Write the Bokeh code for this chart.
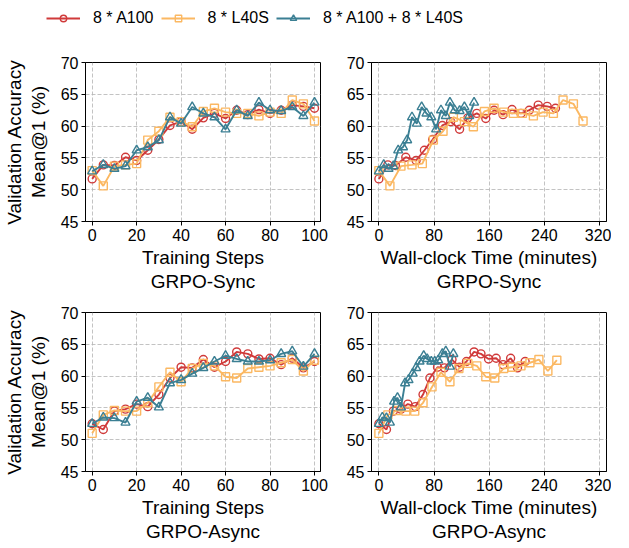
from bokeh.plotting import figure
from bokeh.models import Range1d, FixedTicker, Legend, LegendItem, ColumnDataSource
from bokeh.layouts import column, row
from bokeh.embed import file_html
from bokeh.resources import INLINE

FONT = "Liberation Sans"

# ---------------- data ----------------
steps = [0, 5, 10, 15, 20, 25, 30, 35, 40, 45, 50, 55, 60, 65, 70, 75, 80, 85, 90, 95, 100]

# GRPO-Sync accuracies
a100_sync = [51.7, 53.9, 53.8, 55.1, 54.6, 56.2, 57.9, 60.1, 60.7, 59.5, 61.3, 62.0, 61.2, 62.5, 61.8, 62.6, 62.0, 62.5, 63.3, 63.1, 62.8]
l40s_sync = [53.0, 50.6, 53.7, 53.9, 54.1, 57.8, 59.2, 61.4, 60.7, 59.9, 62.3, 62.8, 62.2, 62.0, 62.0, 61.6, 62.2, 62.0, 64.1, 63.5, 60.8]
mix_sync = [52.9, 53.9, 53.3, 53.7, 56.2, 56.7, 57.8, 61.4, 60.4, 63.0, 62.0, 61.4, 59.5, 62.5, 61.6, 63.7, 62.5, 62.4, 63.0, 61.6, 63.7]

# GRPO-Sync wall-clock times (minutes)
t_a100_sync = [0, 13, 24, 39, 54, 66, 78, 92, 104, 117, 129, 142, 155, 167, 180, 193, 206, 218, 231, 244, 256]
t_l40s_sync = [0, 16, 32, 48, 63, 79, 93, 108, 124, 137, 153, 167, 181, 195, 208, 224, 238, 253, 267, 282, 296]
t_mix_sync = [0, 7, 14, 21, 28, 35, 41, 48, 55, 62, 69, 76, 83, 90, 97, 103, 110, 117, 124, 131, 138]

# GRPO-Async accuracies
a100_async = [52.5, 51.6, 54.5, 54.8, 55.6, 55.2, 57.1, 59.7, 61.4, 61.3, 62.6, 61.4, 62.3, 63.8, 63.5, 62.7, 62.8, 61.8, 62.8, 61.3, 62.3]
l40s_async = [51.0, 53.9, 54.6, 54.5, 54.5, 55.8, 58.3, 60.6, 59.1, 61.2, 62.0, 61.6, 59.9, 59.7, 61.2, 61.4, 61.6, 62.1, 62.6, 60.8, 62.5]
mix_async = [52.5, 53.5, 53.4, 52.7, 56.0, 56.6, 55.1, 58.9, 59.4, 60.4, 61.3, 62.3, 63.2, 62.7, 62.3, 62.3, 62.5, 63.5, 63.9, 61.5, 63.5]

# GRPO-Async wall-clock times (minutes)
t_a100_async = [0, 11, 21, 32, 42, 53, 64, 74, 85, 95, 106, 117, 127, 138, 148, 159, 170, 180, 191, 201, 212]
t_l40s_async = [0, 13, 26, 39, 52, 64, 77, 90, 103, 116, 129, 142, 155, 168, 181, 193, 206, 219, 232, 245, 258]
t_mix_async = [0, 5, 11, 16, 22, 27, 32, 38, 43, 49, 54, 59, 65, 70, 76, 81, 86, 92, 97, 103, 108]

series_names = ["8 * A100", "8 * L40S", "8 * A100 + 8 * L40S"]
step_ticks = [0, 20, 40, 60, 80, 100]
time_ticks = [0, 80, 160, 240, 320]
acc_ticks = [45, 50, 55, 60, 65, 70]

# ---------------- style ----------------
COLORS = ["#d03a3a", "#fbb862", "#3b7f93"]
MARKERS = ["circle", "square", "triangle"]
SIZES = [8, 8, 9]


def panel(xs_list, ys_list, xr, xticks, xlabel, ylabel, bl, br, bt):
    p = figure(frame_width=235, frame_height=159, x_range=Range1d(*xr), y_range=Range1d(45, 70),
               output_backend="svg", toolbar_location=None,
               min_border_left=bl, min_border_right=br, min_border_top=bt, min_border_bottom=0)
    p.outline_line_color = "black"
    p.outline_line_width = 1
    p.outline_line_alpha = 1
    p.grid.grid_line_color = "#b4b4b4"
    p.grid.grid_line_dash = "4 2"
    p.grid.grid_line_width = 0.8
    for xs, ys, c, m, s in zip(xs_list, ys_list, COLORS, MARKERS, SIZES):
        p.line(xs, ys, line_color=c, line_width=1.9)
        p.scatter(xs, ys, marker=m, size=s, line_color=c, fill_color=None, line_width=1.4)
    p.xaxis.ticker = FixedTicker(ticks=xticks)
    p.yaxis.ticker = FixedTicker(ticks=acc_ticks)
    for ax in (p.xaxis[0], p.yaxis[0]):
        ax.major_tick_out = 4
        ax.major_tick_in = 0
        ax.minor_tick_out = 0
        ax.minor_tick_in = 0
        ax.axis_line_color = "black"
        ax.major_tick_line_color = "black"
        ax.major_label_text_font = FONT
        ax.major_label_text_font_size = "16px"
        ax.major_label_text_color = "black"
        ax.axis_label_text_font = FONT
        ax.axis_label_text_font_size = "19px"
        ax.axis_label_text_font_style = "normal"
        ax.axis_label_text_color = "black"
        ax.axis_label_text_line_height = 1.15
        ax.major_label_standoff = 3
    p.xaxis.axis_label = xlabel
    p.xaxis.axis_label_standoff = 3
    if ylabel:
        p.yaxis.axis_label = ylabel
        p.yaxis.axis_label_standoff = 9
    return p


p1 = panel([steps, steps, steps], [a100_sync, l40s_sync, mix_sync], (-3, 102.7), step_ticks,
           "Training Steps\nGRPO-Sync", "Validation Accuracy\nMean@1 (%)", 79, 16, 32)
p2 = panel([t_a100_sync, t_l40s_sync, t_mix_sync], [a100_sync, l40s_sync, mix_sync], (-10.7, 330),
           time_ticks, "Wall-clock Time (minutes)\nGRPO-Sync", None, 35, 5, 32)
p3 = panel([steps, steps, steps], [a100_async, l40s_async, mix_async], (-3, 102.7), step_ticks,
           "Training Steps\nGRPO-Async", "Validation Accuracy\nMean@1 (%)", 79, 16, 18)
p4 = panel([t_a100_async, t_l40s_async, t_mix_async], [a100_async, l40s_async, mix_async], (-10.7, 330),
           time_ticks, "Wall-clock Time (minutes)\nGRPO-Async", None, 35, 5, 18)

# legend strip
lf = figure(width=605, height=30, output_backend="svg", toolbar_location=None,
            x_range=Range1d(0, 1), y_range=Range1d(0, 1), min_border=0,
            x_axis_location=None, y_axis_location=None)
lf.grid.visible = False
lf.outline_line_color = None
items = []
for c, m, s, name in zip(COLORS, MARKERS, SIZES, series_names):
    src = ColumnDataSource(data=dict(x=[float("nan")], y=[float("nan")]))
    r1 = lf.line("x", "y", source=src, line_color=c, line_width=1.9)
    r2 = lf.scatter("x", "y", source=src, marker=m, size=s, line_color=c, fill_color=None, line_width=1.4)
    items.append(LegendItem(label=name, renderers=[r1, r2]))
leg = Legend(items=items, orientation="horizontal", location=(46, 3), glyph_width=34, glyph_height=16,
             label_standoff=13, spacing=7, padding=0, margin=0, border_line_color=None,
             background_fill_alpha=0, label_text_font=FONT, label_text_font_size="16px",
             label_text_color="black")
lf.add_layout(leg, "center")

layout = column(lf, row(p1, p2), row(p3, p4))
open("out.html", "w").write(file_html(layout, INLINE))
